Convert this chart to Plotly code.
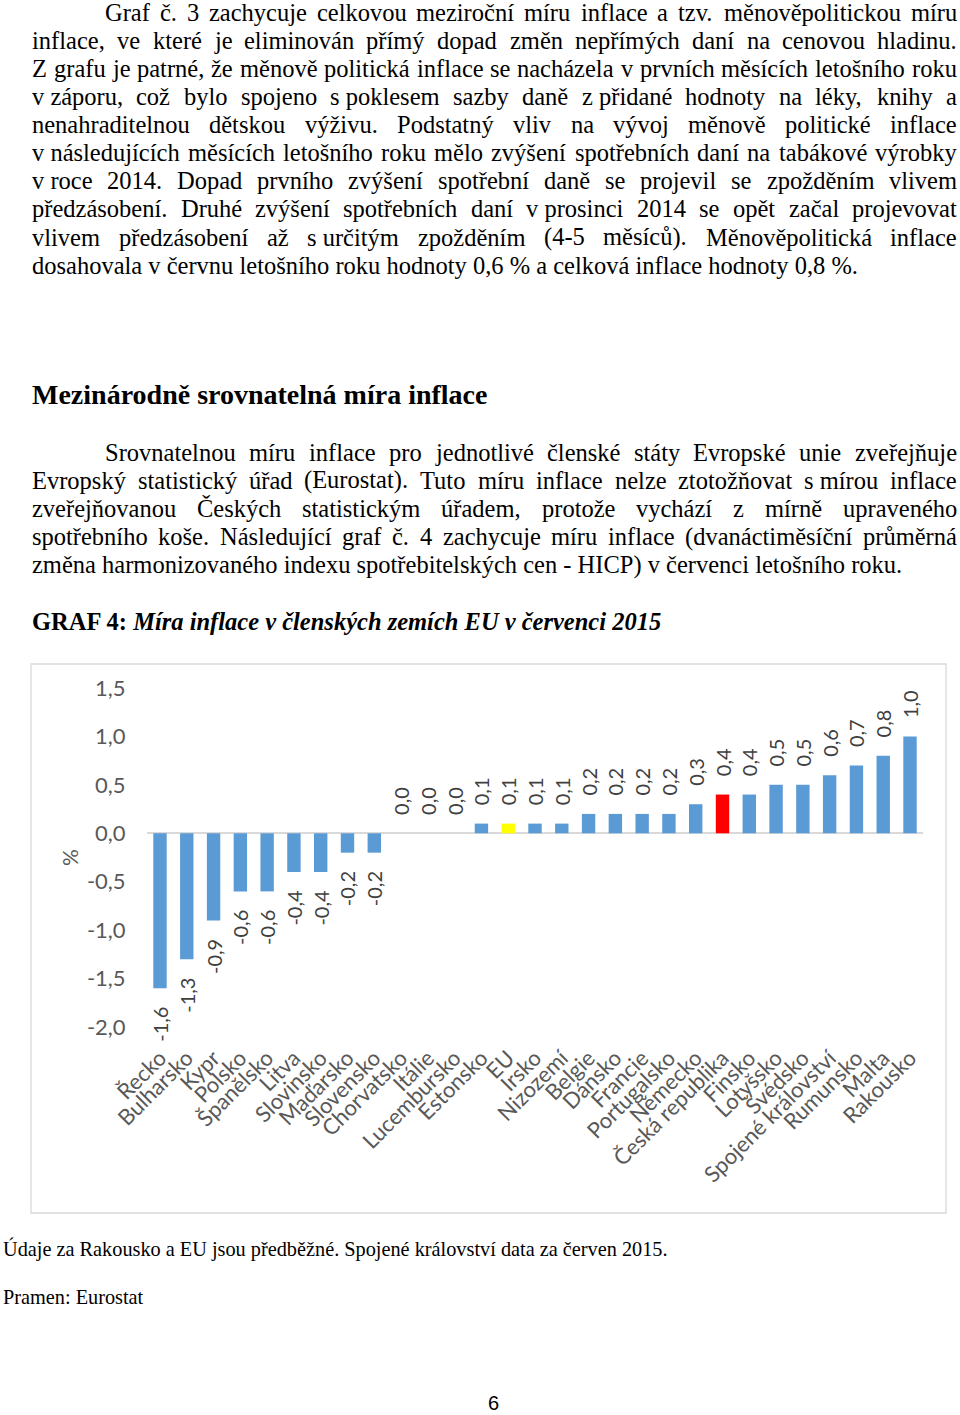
import unicodedata
import plotly.graph_objects as go

# ---------------- data ----------------
countries = ["Řecko", "Bulharsko", "Kypr", "Polsko", "Španělsko", "Litva", "Slovinsko",
             "Maďarsko", "Slovensko", "Chorvatsko", "Itálie", "Lucembursko", "Estonsko",
             "EU", "Irsko", "Nizozemí", "Belgie", "Dánsko", "Francie", "Portugalsko",
             "Německo", "Česká republika", "Finsko", "Lotyšsko", "Švédsko",
             "Spojené království", "Rumunsko", "Malta", "Rakousko"]
inflation = [-1.6, -1.3, -0.9, -0.6, -0.6, -0.4, -0.4, -0.2, -0.2, 0.0, 0.0, 0.0, 0.1,
             0.1, 0.1, 0.1, 0.2, 0.2, 0.2, 0.2, 0.3, 0.4, 0.4, 0.5, 0.5, 0.6, 0.7, 0.8, 1.0]
highlight_colors = {"EU": "#FFFF00", "Česká republika": "#FF0000"}
y_tick_values = [-2.0, -1.5, -1.0, -0.5, 0.0, 0.5, 1.0, 1.5]

para1_lines = [
    "Graf č. 3 zachycuje celkovou meziroční míru inflace a tzv. měnověpolitickou míru",
    "inflace, ve které je eliminován přímý dopad změn nepřímých daní na cenovou hladinu.",
    "Z grafu je patrné, že měnově politická inflace se nacházela v prvních měsících letošního roku",
    "v\u00a0záporu, což bylo spojeno s\u00a0poklesem sazby daně z\u00a0přidané hodnoty na léky, knihy a",
    "nenahraditelnou dětskou výživu. Podstatný vliv na vývoj měnově politické inflace",
    "v\u00a0následujících měsících letošního roku mělo zvýšení spotřebních daní na tabákové výrobky",
    "v\u00a0roce 2014. Dopad prvního zvýšení spotřební daně se projevil se zpožděním vlivem",
    "předzásobení. Druhé zvýšení spotřebních daní v\u00a0prosinci 2014 se opět začal projevovat",
    "vlivem předzásobení až s\u00a0určitým zpožděním (4-5 měsíců). Měnověpolitická inflace",
    "dosahovala v\u00a0červnu letošního roku hodnoty 0,6 % a celková inflace hodnoty 0,8 %.",
]
heading = "Mezinárodně srovnatelná míra inflace"
para2_lines = [
    "Srovnatelnou míru inflace pro jednotlivé členské státy Evropské unie zveřejňuje",
    "Evropský statistický úřad (Eurostat). Tuto míru inflace nelze ztotožňovat s\u00a0mírou inflace",
    "zveřejňovanou Českých statistickým úřadem, protože vychází z mírně upraveného",
    "spotřebního koše. Následující graf č. 4 zachycuje míru inflace (dvanáctiměsíční průměrná",
    "změna harmonizovaného indexu spotřebitelských cen - HICP) v\u00a0červenci letošního roku.",
]
graph_title_bold = "GRAF 4:"
graph_title_italic = "Míra inflace v členských zemích EU v červenci 2015"
footnote = "Údaje za Rakousko a EU jsou předběžné. Spojené království data za červen 2015."
source = "Pramen: Eurostat"
page_number = "6"

# ---------------- helpers ----------------
W, H = 960, 1415


def X(px):
    return px / W


def Y(py):
    return 1 - py / H


TIMES = dict(zip(" abcdefghijklmnopqrstuvwxyz",
                 [250, 444, 500, 444, 500, 444, 333, 500, 500, 278, 278, 500, 278, 778,
                  500, 500, 500, 500, 333, 389, 278, 500, 500, 722, 500, 500, 444]))
TIMES.update(dict(zip("ABCDEFGHIJKLMNOPQRSTUVWXYZ",
                      [722, 667, 667, 722, 611, 556, 722, 722, 333, 389, 722, 611, 889,
                       722, 722, 556, 722, 667, 556, 611, 722, 722, 944, 722, 722, 611])))
TIMES.update({d: 500 for d in "0123456789"})
TIMES.update({".": 250, ",": 250, "-": 333, "(": 333, ")": 333, "%": 833, ":": 278,
              "\u00a0": 250})


def char_w(ch):
    if ch in TIMES:
        return TIMES[ch]
    base = unicodedata.normalize("NFD", ch)[0]
    return TIMES.get(base, 500)


def text_w(s, fs):
    return sum(char_w(c) for c in s) * fs / 1000.0


BODY_FS = 24.5
BODY_FONT = dict(family="Liberation Serif", size=BODY_FS, color="#000000")
LEFT, RIGHT, INDENT = 31, 956, 104

annotations = []


def add_text(text, x_px, baseline, font, anchor="left"):
    fs = font["size"]
    yc = baseline - 0.3375 * fs
    annotations.append(dict(text=text, x=X(x_px - 1 if anchor == "left" else x_px), y=Y(yc),
                            xref="paper", yref="paper", xanchor=anchor, yanchor="middle",
                            showarrow=False, font=font))


def add_paragraph(lines, first_baseline, spacing):
    for i, line in enumerate(lines):
        base = first_baseline + spacing * i
        left = INDENT if i == 0 else LEFT
        if i == len(lines) - 1:
            add_text(line, left, base, BODY_FONT)
            continue
        words = line.split(" ")
        widths = [text_w(w, BODY_FS) for w in words]
        gap = (RIGHT - left - sum(widths)) / (len(words) - 1)
        gap = max(gap, 3)
        x = left
        for w, ww in zip(words, widths):
            add_text(w, x, base, BODY_FONT)
            x += ww + gap


add_paragraph(para1_lines, 20.5, 28.1)
add_text("<b>%s</b>" % heading, LEFT, 403.5,
         dict(family="Liberation Serif", size=28, color="#000000"))
add_paragraph(para2_lines, 460.5, 28.1)
add_text("<b>%s <i>%s</i></b>" % (graph_title_bold, graph_title_italic), LEFT, 630,
         dict(family="Liberation Serif", size=24.5, color="#000000"))
add_text(footnote, 2, 1255.5, dict(family="Liberation Serif", size=20.3, color="#000000"))
add_text(source, 2, 1303.5, dict(family="Liberation Serif", size=20.3, color="#000000"))
annotations.append(dict(text=page_number, x=X(493), y=Y(1403),
                        xref="paper", yref="paper", xanchor="center", yanchor="middle",
                        showarrow=False,
                        font=dict(family="Liberation Sans", size=20, color="#000000")))

# y-axis title
annotations.append(dict(text="%", x=X(70), y=Y(858), xref="paper", yref="paper",
                        xanchor="center", yanchor="middle", showarrow=False, textangle=-90,
                        font=dict(family="Lato", size=21, color="#595959")))

# ---------------- chart ----------------
bar_colors = [highlight_colors.get(c, "#5B9BD5") for c in countries]
pad = "\u00a0\u00a0\u00a0"
value_labels = [(pad + f"{v:.1f}".replace(".", ",")) if v >= 0
                else (f"{v:.1f}".replace(".", ",") + pad) for v in inflation]

fig = go.Figure(go.Bar(
    x=countries, y=inflation,
    marker=dict(color=bar_colors, line=dict(width=0)),
    text=value_labels, textposition="outside", textangle=-90,
    constraintext="none", cliponaxis=False,
    textfont=dict(family="Lato", size=20, color="#404040"),
    hoverinfo="x+y",
))

plot_left, plot_right, plot_top, plot_bottom = 146.6, 923.4, 688, 1027

fig.update_layout(
    width=W, height=H, autosize=False,
    margin=dict(l=0, r=0, t=0, b=0),
    paper_bgcolor="white", plot_bgcolor="white",
    showlegend=False, bargap=0.5,
    font=dict(family="Lato", color="#595959"),
    annotations=annotations,
    shapes=[dict(type="rect", xref="paper", yref="paper",
                 x0=X(31), x1=X(946), y0=Y(1213), y1=Y(664),
                 line=dict(color="#D9D9D9", width=1.3), layer="below")],
    xaxis=dict(domain=[X(plot_left), X(plot_right)], tickangle=-45,
               tickfont=dict(family="Lato", size=22, color="#595959"),
               showgrid=False, showline=False, zeroline=False, ticks="",
               automargin=False, ticklabelstandoff=13),
    yaxis=dict(domain=[Y(plot_bottom), Y(plot_top)], range=[-2, 1.5],
               tickvals=y_tick_values,
               ticktext=[f"{v:.1f}".replace(".", ",") for v in y_tick_values],
               tickfont=dict(family="Lato", size=22, color="#595959"),
               showgrid=False, showline=False, zeroline=True,
               zerolinecolor="#D9D9D9", zerolinewidth=1.5, ticks="",
               automargin=False, ticklabelstandoff=20),
)

fig.write_html("out.html", config={"displayModeBar": False},
               post_script="document.body.style.margin='0px';"
                           "document.body.style.overflow='hidden';")
